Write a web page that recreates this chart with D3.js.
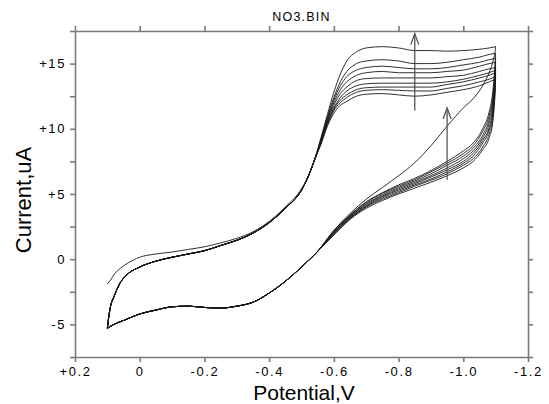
<!DOCTYPE html>
<html>
<head>
<meta charset="utf-8">
<script src="https://cdn.jsdelivr.net/npm/d3@7"></script>
<style>
  body { margin: 0; background: #fff; }
  svg { display: block; }
  text { font-family: "Liberation Sans", Arial, sans-serif; fill: #000; }
</style>
</head>
<body>
<svg width="549" height="404"></svg>
<script>
// potentials (V) of the forward scan (+0.1 -> -1.1) and the reverse scan (-1.1 -> +0.1)
const fwdPotential = [0.1, 0.095, 0.09, 0.08, 0.06, 0.04, 0.0, -0.05, -0.1, -0.15, -0.2, -0.25, -0.3, -0.35, -0.4, -0.45, -0.5, -0.52, -0.54,
                      -0.56, -0.58, -0.6, -0.62, -0.64, -0.67, -0.7, -0.75, -0.8, -0.85, -0.9, -0.95, -1.0, -1.05, -1.08, -1.1];
const revPotential = [-1.1, -1.098, -1.095, -1.09, -1.08, -1.06, -1.03, -1.0, -0.95, -0.9, -0.85, -0.8, -0.75, -0.7, -0.65, -0.6,
                      -0.55, -0.5, -0.45, -0.4, -0.35, -0.3, -0.25, -0.2, -0.15, -0.1, -0.05, 0.0, 0.05, 0.08, 0.1];

// currents (uA), forward scan: foot of the wave, then the wave and plateau for each cycle
const firstFoot  = [-1.9, -1.75, -1.6, -1.2, -0.7, -0.35, 0.15, 0.4, 0.55, 0.75, 0.95, 1.25, 1.6, 2.1, 2.9, 4.0, 5.4, 6.3, 7.6];
const cycleFoot  = [-5.3, -4.3, -3.6, -2.9, -1.8, -1.2, -0.6, -0.15, 0.15, 0.4, 0.65, 1.05, 1.45, 2.0, 2.8, 3.9, 5.3, 6.3, 7.6];
const plateau = [
  [9.3, 11.1, 12.8, 14.2, 15.2, 15.9, 16.2, 16.3, 16.2, 16.0, 16.0, 15.95, 16.0, 16.1, 16.2, 16.3],
  [9.2, 10.9, 12.4, 13.6, 14.4, 15.0, 15.2, 15.3, 15.2, 15.0, 15.0, 15.1, 15.3, 15.5, 15.7, 15.8],
  [9.1, 10.8, 12.2, 13.3, 14.0, 14.5, 14.7, 14.8, 14.7, 14.6, 14.6, 14.7, 14.9, 15.1, 15.3, 15.4],
  [9.1, 10.7, 12.0, 13.0, 13.6, 14.1, 14.3, 14.4, 14.3, 14.3, 14.3, 14.4, 14.5, 14.8, 15.0, 15.1],
  [9.0, 10.6, 11.8, 12.7, 13.2, 13.7, 13.85, 13.9, 13.9, 13.9, 13.9, 14.0, 14.1, 14.4, 14.6, 14.7],
  [9.0, 10.5, 11.6, 12.4, 12.9, 13.3, 13.45, 13.5, 13.5, 13.5, 13.5, 13.6, 13.8, 14.1, 14.3, 14.5],
  [8.9, 10.4, 11.5, 12.2, 12.6, 13.0, 13.15, 13.2, 13.2, 13.2, 13.2, 13.4, 13.6, 13.9, 14.1, 14.3],
  [8.9, 10.3, 11.4, 12.0, 12.4, 12.8, 12.95, 13.0, 12.95, 12.9, 12.9, 13.1, 13.3, 13.6, 13.8, 14.0],
  [8.8, 10.2, 11.2, 11.8, 12.1, 12.5, 12.65, 12.7, 12.6, 12.5, 12.6, 12.8, 13.0, 13.3, 13.6, 13.8]
];

// currents (uA), reverse scan: the part near -1.1 V for each cycle, then the shared tail
const returnHead = [
  [16.3, 15.9, 15.5, 15.0, 14.3, 13.3, 12.3, 11.6, 10.2, 8.7, 7.4, 6.4, 5.5, 4.6, 3.5, 2.2],
  [15.8, 14.9, 13.9, 12.6, 11.3, 10.0, 8.9, 8.3, 7.5, 6.8, 6.2, 5.7, 5.1, 4.4, 3.4, 2.2],
  [15.4, 14.4, 13.4, 12.2, 11.0, 9.8, 8.7, 8.1, 7.35, 6.7, 6.1, 5.6, 5.05, 4.35, 3.35, 2.15],
  [15.1, 14.1, 13.1, 11.9, 10.7, 9.5, 8.5, 7.9, 7.2, 6.55, 6.0, 5.5, 4.95, 4.25, 3.3, 2.1],
  [14.7, 13.7, 12.7, 11.5, 10.4, 9.3, 8.3, 7.7, 7.0, 6.4, 5.9, 5.4, 4.85, 4.2, 3.25, 2.05],
  [14.5, 13.5, 12.4, 11.2, 10.1, 9.1, 8.1, 7.5, 6.85, 6.3, 5.8, 5.3, 4.8, 4.1, 3.2, 2.0],
  [14.3, 13.2, 12.1, 10.9, 9.9, 8.9, 7.9, 7.35, 6.7, 6.15, 5.7, 5.2, 4.7, 4.05, 3.15, 1.95],
  [14.0, 12.9, 11.8, 10.6, 9.6, 8.6, 7.7, 7.2, 6.55, 6.05, 5.6, 5.1, 4.6, 4.0, 3.1, 1.9],
  [13.8, 12.6, 11.5, 10.3, 9.3, 8.4, 7.5, 7.0, 6.4, 5.9, 5.45, 5.0, 4.5, 3.9, 3.05, 1.85]
];
const returnTail = [0.6, -0.6, -1.7, -2.6, -3.3, -3.6, -3.75, -3.7, -3.6, -3.65, -3.9, -4.2, -4.7, -5.0, -5.3];

// arrows: potential, start current, end current
const arrows = [
  {v: -0.85, from: 11.4, to: 17.3},
  {v: -0.95, from: 6.1, to: 11.6}
];

const xTicks = [0.2, 0, -0.2, -0.4, -0.6, -0.8, -1.0, -1.2];
const xTickLabels = ["+0.2", "0", "-0.2", "-0.4", "-0.6", "-0.8", "-1.0", "-1.2"];
const yTicks = [-7.5, -5, -2.5, 0, 2.5, 5, 7.5, 10, 12.5, 15, 17.5];
const yTickLabels = {"-5": "-5", "0": "0", "5": "+5", "10": "+10", "15": "+15"};

const svg = d3.select("svg");
const plotLeft = 75, plotRight = 528, plotTop = 31, plotBottom = 357;

const x = d3.scaleLinear().domain([0.2, -1.2]).range([plotLeft, plotRight]);
const y = d3.scaleLinear().domain([-7.5, 17.5]).range([plotBottom, plotTop]);

const axisColor = "#7a7a7a";
function styleAxis(g) {
  g.select(".domain").attr("stroke", axisColor).attr("stroke-width", 1.6);
  g.selectAll(".tick line").attr("stroke", axisColor).attr("stroke-width", 1.6);
  g.selectAll(".tick text")
    .style("font-family", "'Liberation Sans', Arial, sans-serif")
    .style("font-size", "13px")
    .style("letter-spacing", "1.6px")
    .attr("fill", "#000");
}

// bottom
svg.append("g")
  .attr("transform", `translate(0,${plotBottom})`)
  .call(d3.axisBottom(x).tickValues(xTicks).tickSize(5).tickSizeOuter(0).tickPadding(5)
    .tickFormat((d, i) => xTickLabels[i]))
  .call(styleAxis);

// top
svg.append("g")
  .attr("transform", `translate(0,${plotTop})`)
  .call(d3.axisTop(x).tickValues(xTicks).tickSize(5).tickSizeOuter(0).tickFormat(""))
  .call(styleAxis);

// left
svg.append("g")
  .attr("transform", `translate(${plotLeft},0)`)
  .call(d3.axisLeft(y).tickValues(yTicks).tickSize(5).tickSizeOuter(0).tickPadding(4)
    .tickFormat(d => yTickLabels[d] || ""))
  .call(styleAxis);

// right
svg.append("g")
  .attr("transform", `translate(${plotRight},0)`)
  .call(d3.axisRight(y).tickValues(yTicks).tickSize(5).tickSizeOuter(0).tickFormat(""))
  .call(styleAxis);

// curves
const line = d3.line()
  .x(d => x(d[0]))
  .y(d => y(d[1]))
  .curve(d3.curveMonotoneX);

const curves = svg.append("g").attr("fill", "none").attr("stroke", "#1a1a1a").attr("stroke-width", 0.9);

plateau.forEach((rest, i) => {
  const fwdCurrent = (i === 0 ? firstFoot : cycleFoot).concat(rest);
  const revCurrent = returnHead[i].concat(returnTail);
  const fwd = fwdPotential.map((v, j) => [v, fwdCurrent[j]]);
  const rev = revPotential.map((v, j) => [v, revCurrent[j]]).reverse();
  curves.append("path").attr("d", line(fwd));
  curves.append("path").attr("d", line(rev));
});

// arrows
const arrowG = svg.append("g").attr("stroke", "#555").attr("stroke-width", 1.3).attr("fill", "none");
arrows.forEach(a => {
  const ax = x(a.v), y0 = y(a.from), y1 = y(a.to);
  arrowG.append("line").attr("x1", ax).attr("x2", ax).attr("y1", y0).attr("y2", y1);
  arrowG.append("path").attr("d", `M${ax - 4},${y1 + 11}L${ax},${y1}L${ax + 4},${y1 + 11}`);
});

// title and axis titles
svg.append("text")
  .attr("x", (plotLeft + plotRight) / 2).attr("y", 21)
  .attr("text-anchor", "middle")
  .style("font-size", "12.5px").style("letter-spacing", "1.2px")
  .text("NO3.BIN");

svg.append("text")
  .attr("x", 304).attr("y", 400)
  .attr("text-anchor", "middle")
  .style("font-size", "21px")
  .text("Potential,V");

svg.append("text")
  .attr("transform", "translate(31,200) rotate(-90)")
  .attr("text-anchor", "middle")
  .style("font-size", "22px")
  .text("Current,uA");
</script>
</body>
</html>
